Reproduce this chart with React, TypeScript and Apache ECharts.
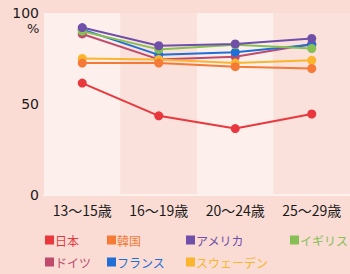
import React, { useEffect, useRef } from "react";
import * as echarts from "echarts";

const categories = ["13～15歳", "16～19歳", "20～24歳", "25～29歳"];
const seriesNames = ["日本", "韓国", "アメリカ", "イギリス", "ドイツ", "フランス", "スウェーデン"];
const japan = [61.5, 43.5, 36.5, 44.5];
const korea = [72.5, 72.5, 70.5, 69.5];
const america = [92, 82, 83, 86];
const uk = [90, 80, 82.5, 80.5];
const germany = [88.5, 74.5, 76, 83];
const france = [91, 77, 78.5, 82.5];
const sweden = [75, 74.5, 72.5, 74];
const yTicks = [0, 50, 100];

const colors = ["#e8383d", "#f47a36", "#6f4fa8", "#86c055", "#c04a6c", "#1f6fd6", "#f9b52c"];
const values = [japan, korea, america, uk, germany, france, sweden];
const legendPos = [
  [45, 234], [107, 234], [186, 234], [290, 234],
  [45, 256], [107, 256], [186, 256],
];

export default function App() {
  const ref = useRef<HTMLDivElement>(null);
  useEffect(() => {
    const chart = echarts.init(ref.current!, null, { renderer: "svg" });
    const order = [4, 5, 3, 6, 1, 2, 0];
    chart.setOption({
      animation: false,
      backgroundColor: "#fadcd5",
      textStyle: { fontFamily: "Noto Sans CJK JP" },
      grid: { left: 44, right: 0, top: 13, bottom: 79 },
      xAxis: {
        type: "category",
        data: categories,
        boundaryGap: true,
        axisLine: { lineStyle: { color: "#fff2ee", width: 2 } },
        axisTick: { show: false },
        axisLabel: { interval: 0, color: "#1a1a1a", fontSize: 14, margin: 8, fontFamily: "Noto Sans CJK JP" },
        splitArea: { show: true, interval: 0, areaStyle: { color: ["#fdf0ec", "#fbe1db"] } },
      },
      yAxis: {
        type: "value",
        min: 0,
        max: 100,
        interval: 50,
        axisLine: { show: false },
        axisTick: { show: false },
        splitLine: { show: false },
        axisLabel: {
          color: "#1a1a1a",
          fontSize: 14,
          margin: 5,
          fontFamily: "DejaVu Sans",
          formatter: (v: number) => (yTicks.includes(v) ? String(v) : ""),
        },
      },
      graphic: [
        {
          type: "text",
          left: 27,
          top: 22,
          style: { text: "%", fontSize: 13, fill: "#1a1a1a", fontFamily: "DejaVu Sans" },
        },
      ],
      legend: seriesNames.map((name, i) => ({
        left: legendPos[i][0],
        top: legendPos[i][1],
        data: [{ name, textStyle: { color: colors[i] } }],
        icon: "rect",
        itemWidth: 9,
        itemHeight: 9,
        itemGap: 2,
        padding: 0,
        selectedMode: false,
        textStyle: { fontSize: 12, padding: [0, 0, 0, -4], fontFamily: "Noto Sans CJK JP" },
      })),
      series: order.map((i) => ({
        name: seriesNames[i],
        type: "line",
        data: values[i],
        symbol: "circle",
        symbolSize: 9,
        color: colors[i],
        lineStyle: { width: 2, color: colors[i] },
        itemStyle: { color: colors[i] },
      })),
    });
    return () => chart.dispose();
  }, []);
  return <div ref={ref} style={{ width: 350, height: 274, position: "absolute", left: 0, top: 0 }} />;
}
